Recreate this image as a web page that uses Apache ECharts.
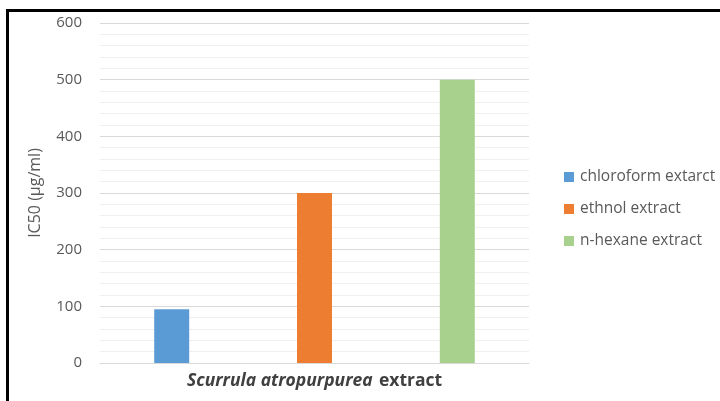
<!DOCTYPE html>
<html>
<head>
<meta charset="utf-8">
<script src="https://cdn.jsdelivr.net/npm/echarts@6/dist/echarts.min.js"></script>
<style>
  html, body { margin: 0; padding: 0; background: #fff; }
  #main { width: 720px; height: 401px; }
</style>
</head>
<body>
<div id="main"></div>
<script>
// data
var categories = ['Scurrula atropurpurea extract'];
var seriesNames = ['chloroform extarct', 'ethnol extract', 'n-hexane extract'];
var chloroform = [95];
var ethanol = [300];
var hexane = [500];
var colors = ['#5b9bd5', '#ed7d31', '#a9d18e'];

var myChart = echarts.init(document.getElementById('main'));

var font = "'Open Sans', 'Noto Sans', sans-serif";

function makeSeries(name, data, color) {
    return {
        name: name,
        type: 'bar',
        data: data,
        barWidth: 35,
        barGap: '308%',
        itemStyle: { color: color }
    };
}

var option = {
    animation: false,
    backgroundColor: '#ffffff',
    textStyle: { fontFamily: font },
    grid: { left: 100, right: 191, top: 23, bottom: 38 },
    legend: {
        orient: 'vertical',
        left: 559,
        top: 164,
        icon: 'rect',
        itemWidth: 10,
        itemHeight: 10,
        itemGap: 16,
        data: seriesNames,
        textStyle: { color: '#595959', fontSize: 15.5, fontFamily: font, padding: [0, 0, 0, 1] }
    },
    xAxis: {
        type: 'category',
        data: categories,
        axisLine: { lineStyle: { color: '#d9d9d9' } },
        axisTick: { show: false },
        axisLabel: {
            margin: 9,
            formatter: function (v) {
                var i = v.lastIndexOf(' ');
                return '{i|' + v.slice(0, i) + '}  {b|' + v.slice(i + 1) + '}';
            },
            rich: {
                i: { fontStyle: 'italic', fontWeight: 'bold', fontSize: 17.5, color: '#404040', fontFamily: font },
                b: { fontWeight: 'bold', fontSize: 17.5, color: '#404040', fontFamily: font }
            }
        }
    },
    yAxis: {
        type: 'value',
        min: 0,
        max: 600,
        interval: 100,
        name: 'IC50 (µg/ml)',
        nameLocation: 'middle',
        nameGap: 57,
        nameTextStyle: { color: '#595959', fontSize: 16, fontFamily: font },
        axisLine: { show: false },
        axisTick: { show: false },
        axisLabel: { color: '#595959', fontSize: 15, margin: 18 },
        splitLine: { lineStyle: { color: '#d9d9d9' } },
        minorTick: { show: false, splitNumber: 5 },
        minorSplitLine: { show: true, lineStyle: { color: '#efefef' } }
    },
    graphic: [
        { type: 'rect', shape: { x: 6, y: 9, width: 714, height: 3 }, style: { fill: '#000' } },
        { type: 'rect', shape: { x: 6, y: 9, width: 3, height: 392 }, style: { fill: '#000' } }
    ],
    series: [
        makeSeries(seriesNames[0], chloroform, colors[0]),
        makeSeries(seriesNames[1], ethanol, colors[1]),
        makeSeries(seriesNames[2], hexane, colors[2])
    ]
};
myChart.setOption(option);
</script>
</body>
</html>
